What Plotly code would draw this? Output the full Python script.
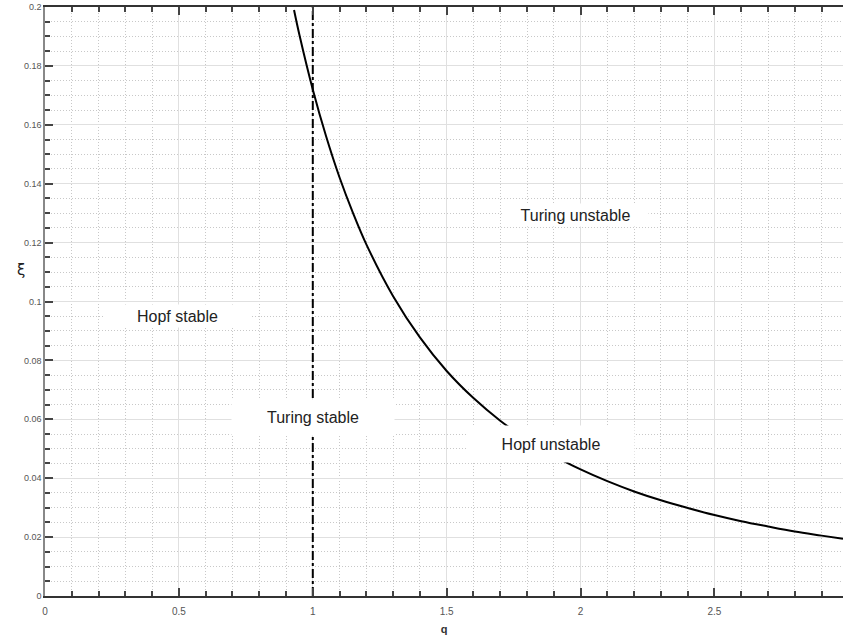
import plotly.graph_objects as go

# Curve values
q_curve = [0.93, 0.95, 1.0, 1.05, 1.1, 1.15, 1.2, 1.3, 1.4, 1.5, 1.6, 1.7, 1.8,
           1.9, 2.0, 2.1, 2.2, 2.3, 2.4, 2.5, 2.6, 2.7, 2.8, 2.9, 2.98]
xi_curve = [0.1990, 0.1906, 0.1720, 0.1560, 0.1421, 0.1301, 0.1194, 0.1018,
            0.0878, 0.0764, 0.0672, 0.0595, 0.0531, 0.0476, 0.0430, 0.0390,
            0.0355, 0.0325, 0.0299, 0.0275, 0.0254, 0.0236, 0.0219, 0.0205,
            0.0194]

# Vertical boundary q = 1
q_vline = [1.0, 1.0]
xi_vline = [0.0, 0.2]

# Region labels
label_text = ["Hopf stable", "Turing stable", "Turing unstable", "Hopf unstable"]
label_q = [0.495, 1.0, 1.98, 1.89]
label_xi = [0.0950, 0.0607, 0.1295, 0.0515]
label_w = [145, 162, 145, 166]
label_h = [22, 35, 22, 36]

x_ticks = [0, 0.5, 1, 1.5, 2, 2.5]
x_ticklabels = ["0", "0.5", "1", "1.5", "2", "2.5"]
y_ticks = [0, 0.02, 0.04, 0.06, 0.08, 0.1, 0.12, 0.14, 0.16, 0.18, 0.2]
y_ticklabels = ["0", "0.02", "0.04", "0.06", "0.08", "0.1", "0.12", "0.14",
                "0.16", "0.18", "0.2"]

W, H = 843, 637
ML, MR, MT, MB = 45, 0, 7, 41

fig = go.Figure()
fig.add_trace(go.Scatter(x=q_curve, y=xi_curve, mode="lines",
                         line=dict(color="black", width=2, shape="spline"),
                         showlegend=False, hoverinfo="skip"))
fig.add_trace(go.Scatter(x=q_vline, y=xi_vline, mode="lines",
                         line=dict(color="black", width=2, dash="dashdot"),
                         showlegend=False, hoverinfo="skip"))

for t, qx, yv, w, h in zip(label_text, label_q, label_xi, label_w, label_h):
    fig.add_annotation(x=qx, y=yv, text=t, showarrow=False,
                       font=dict(family="Liberation Sans, Arial", size=16, color="#222"),
                       bgcolor="white", width=w, height=h, borderpad=0,
                       xref="x", yref="y")

grid_major = "#e0e0e0"
grid_minor = "#c8c8c8"

fig.update_xaxes(
    range=[0, 2.98], tickvals=x_ticks, ticktext=x_ticklabels,
    ticks="inside", ticklen=8, tickwidth=1.5, tickcolor="#444",
    showline=True, linecolor="#333", linewidth=2, mirror="ticks",
    showgrid=True, gridcolor=grid_major, gridwidth=1,
    zeroline=False,
    minor=dict(dtick=0.1, tick0=0, ticks="inside", ticklen=5, tickcolor="#444",
               showgrid=True, gridcolor=grid_minor, griddash="1px,2px", gridwidth=1),
    tickfont=dict(family="Liberation Sans, Arial", size=10, color="#555"),
    ticklabelstandoff=5,
    title=dict(text="<b>q</b>", font=dict(family="Liberation Sans, Arial", size=11, color="#333"),
               standoff=9),
    automargin=False,
)
fig.update_yaxes(
    range=[0, 0.2], tickvals=y_ticks, ticktext=y_ticklabels,
    ticks="inside", ticklen=8, tickwidth=1.5, tickcolor="#444",
    showline=True, linecolor="#888", linewidth=1.5, mirror=False,
    showgrid=True, gridcolor=grid_major, gridwidth=1,
    zeroline=False,
    minor=dict(dtick=0.005, tick0=0, ticks="inside", ticklen=5, tickcolor="#444",
               showgrid=True, gridcolor=grid_minor, griddash="1px,2px", gridwidth=1),
    tickfont=dict(family="Liberation Sans, Arial", size=9, color="#555"),
    automargin=False,
)

# y-axis symbol, placed in pixel terms converted to paper coordinates
fig.add_annotation(x=(15 - ML) / (W - ML - MR), y=(H - MB - 270) / (H - MB - MT),
                   xref="paper", yref="paper", text="ξ",
                   showarrow=False,
                   font=dict(family="DejaVu Sans", size=15, color="#222"))

fig.update_layout(
    width=W, height=H,
    margin=dict(l=ML, r=MR, t=MT, b=MB),
    plot_bgcolor="white", paper_bgcolor="white",
)

fig.write_html("out.html", config={"displayModeBar": False},
               post_script="document.body.style.margin='0';document.body.style.overflow='hidden';")
